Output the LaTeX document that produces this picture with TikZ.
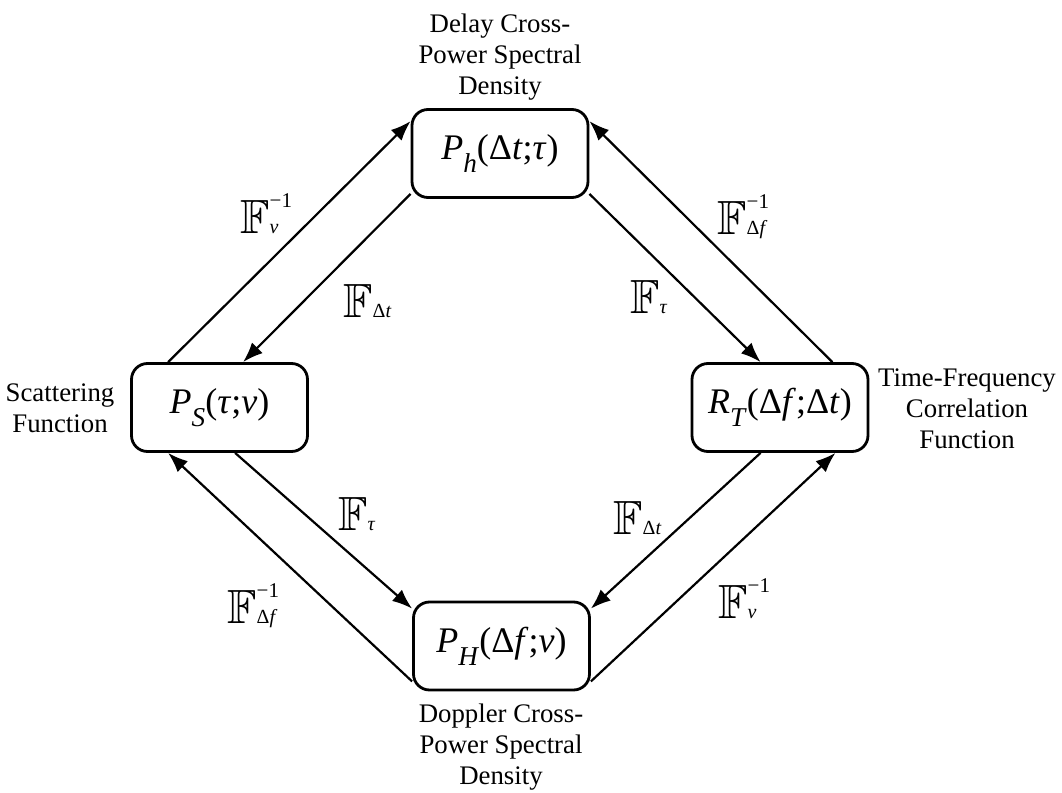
\documentclass[tikz,border=0pt]{standalone}
\usepackage{amssymb}
\usepackage{fontspec}
\setmainfont{Liberation Serif}
\usetikzlibrary{arrows.meta,calc}
\newcommand{\Fop}[2]{$\mathbb{F}$\rlap{\raisebox{13pt}{\fontsize{10.5}{10.5}\selectfont #2}}{\fontsize{10}{10}\selectfont #1}}
\newcommand{\lowsub}[1]{\raisebox{-6.5pt}{\fontsize{13.6}{13.6}\selectfont\textit{#1}}}

\begin{document}
\begin{tikzpicture}[x=0.5pt,y=-0.5pt,
  b/.style={draw,line width=1.4pt,rounded corners=8pt,minimum width=88pt,minimum height=44pt,inner sep=0pt,font=\fontsize{18}{20}\selectfont},
  lab/.style={align=center,inner sep=0pt,font=\fontsize{13.4}{15.5}\selectfont},
  op/.style={anchor=base west,inner sep=0pt,font=\fontsize{24}{24}\selectfont},
  ar/.style={line width=1.1pt,-{Latex[length=10pt,width=7.5pt]}}]
\useasboundingbox (0,0) rectangle (1062,793);
% the four functions
\node[b] (delay) at (500,153.5) {\textit{P}\lowsub{h}(Δ\textit{t};\textit{τ})};
\node[b] (scat) at (219.5,407.5) {\textit{P}\lowsub{S}(\textit{τ};\textit{ν})};
\node[b] (corr) at (780,407.5) {\textit{R}\lowsub{T}(Δ\textit{f};Δ\textit{t})};
\node[b] (dopp) at (501.5,646) {\textit{P}\lowsub{H}(Δ\textit{f};\textit{ν})};
% their names
\node[lab,anchor=north] (dtop) at (500,14) {Delay Cross-\\Power Spectral\\Density};
\node[lab] (dleft) at (60,408) {Scattering\\Function};
\node[lab] (dright) at (967,409) {Time-Frequency\\Correlation\\Function};
\node[lab,anchor=north] (dbot) at (501,703) {Doppler Cross-\\Power Spectral\\Density};
% transforms
\draw[ar] ($(scat.north west)+(38,0)$) -- ($(delay.north west)+(0,13)$);
\draw[ar] ($(delay.south west)+(0,-5)$) -- ($(scat.north west)+(113,0)$);
\draw[ar] ($(delay.south east)+(0,-5)$) -- ($(corr.north west)+(70,0)$);
\draw[ar] ($(corr.north east)+(-37,0)$) -- ($(delay.north east)+(0,13)$);
\draw[ar] ($(scat.south west)+(105,0)$) -- ($(dopp.north west)+(0,8)$);
\draw[ar] ($(dopp.south west)+(0,-10)$) -- ($(scat.south west)+(38,0)$);
\draw[ar] ($(corr.south west)+(70,0)$) -- ($(dopp.north east)+(0,8)$);
\draw[ar] ($(dopp.south east)+(0,-10)$) -- ($(corr.south east)+(-34,0)$);
\node[op] (f1) at (240,233) {\Fop{\textit{ν}}{−1}};
\node[op] (f2) at (343,317) {\Fop{Δ\textit{t}}{}};
\node[op] (f3) at (717,234) {\Fop{Δ\textit{f}}{−1}};
\node[op] (f4) at (630,313) {\Fop{\textit{τ}}{}};
\node[op] (f5) at (338,530) {\Fop{\textit{τ}}{}};
\node[op] (f6) at (227,623) {\Fop{Δ\textit{f}}{−1}};
\node[op] (f7) at (613,534) {\Fop{Δ\textit{t}}{}};
\node[op] (f8) at (718,618) {\Fop{\textit{ν}}{−1}};
\end{tikzpicture}
\end{document}
